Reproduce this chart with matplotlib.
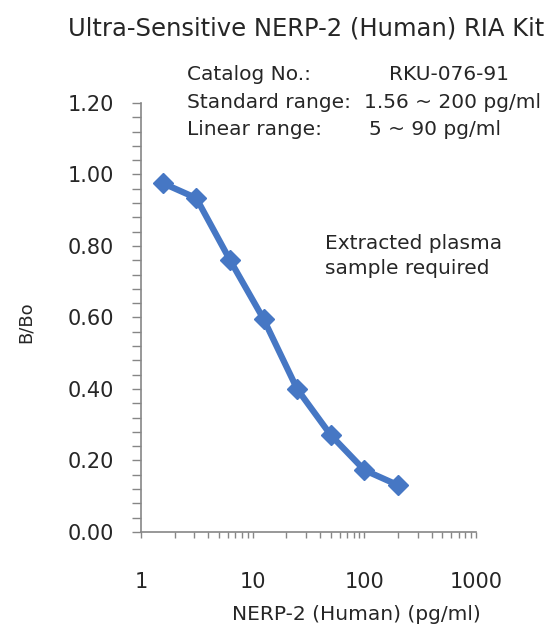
import numpy as np
import matplotlib
matplotlib.use("Agg")
import matplotlib.pyplot as plt
from matplotlib.ticker import FixedLocator, NullFormatter, LogLocator, FuncFormatter

plt.rcParams['font.family'] = ['DejaVu Sans']

# standard curve
conc = [1.56, 3.125, 6.25, 12.5, 25, 50, 100, 200]
b_bo = [0.976, 0.934, 0.761, 0.596, 0.40, 0.271, 0.173, 0.131]

title = "Ultra-Sensitive NERP-2 (Human) RIA Kit"
info_left = ["Catalog No.:", "Standard range:", "Linear range:"]
info_right = ["RKU-076-91", "1.56 ~ 200 pg/ml", "5 ~ 90 pg/ml"]
note = "Extracted plasma\nsample required"

blue = "#4677c4"
grey = "#868686"
txt = "#262626"

fig = plt.figure(figsize=(5.58, 6.30), dpi=100)
ax = fig.add_axes([0.2527, 0.1556, 0.6005, 0.6809])

ax.plot(conc, b_bo, color=blue, lw=4.5, marker="D", ms=10, mec=blue, mfc=blue,
        solid_joinstyle="round", solid_capstyle="round")

ax.set_xscale("log")
ax.set_xlim(1, 1000)
ax.set_ylim(0, 1.2)

yt = np.arange(0, 1.21, 0.2)
ax.set_yticks(yt)
ax.set_yticklabels([f"{v:.2f}" for v in yt])
ax.yaxis.set_minor_locator(FixedLocator(np.arange(0, 1.201, 0.04)))
ax.xaxis.set_major_locator(LogLocator(base=10, numticks=10))
ax.xaxis.set_minor_locator(LogLocator(base=10, subs=np.arange(2, 10), numticks=20))
ax.xaxis.set_minor_formatter(NullFormatter())
ax.xaxis.set_major_formatter(FuncFormatter(lambda v, p: f"{v:g}"))

for s in ["top", "right"]:
    ax.spines[s].set_visible(False)
for s in ["left", "bottom"]:
    ax.spines[s].set_color(grey)
    ax.spines[s].set_linewidth(1.2)

ax.tick_params(which="both", color=grey, width=1, labelcolor=txt, labelsize=15)
ax.tick_params(axis="y", which="both", length=6.5, pad=13)
ax.tick_params(axis="x", which="both", length=4, pad=25)

ax.set_xlabel("NERP-2 (Human) (pg/ml)", fontsize=14.5, color=txt, va="center")
ax.xaxis.set_label_coords(0.642, -0.193)
ax.set_ylabel("B/Bo", fontsize=13, color=txt, va="center")
ax.yaxis.set_label_coords(-0.345, 0.49)

fig.text(0.549, 0.954, title, ha="center", va="center", fontsize=17.5, color=txt)
ys = [0.881, 0.837, 0.794]
for y, a in zip(ys, info_left):
    fig.text(0.335, y, a, ha="left", va="center", fontsize=14.5, color=txt)
for y, b, x in zip(ys, info_right, [0.698, 0.652, 0.662]):
    fig.text(x, y, b, ha="left", va="center", fontsize=14.5, color=txt)

fig.text(0.583, 0.594, note, ha="left", va="center", fontsize=14.5, color=txt,
         linespacing=1.4)

fig.savefig("out.png", dpi=100, facecolor="white")
